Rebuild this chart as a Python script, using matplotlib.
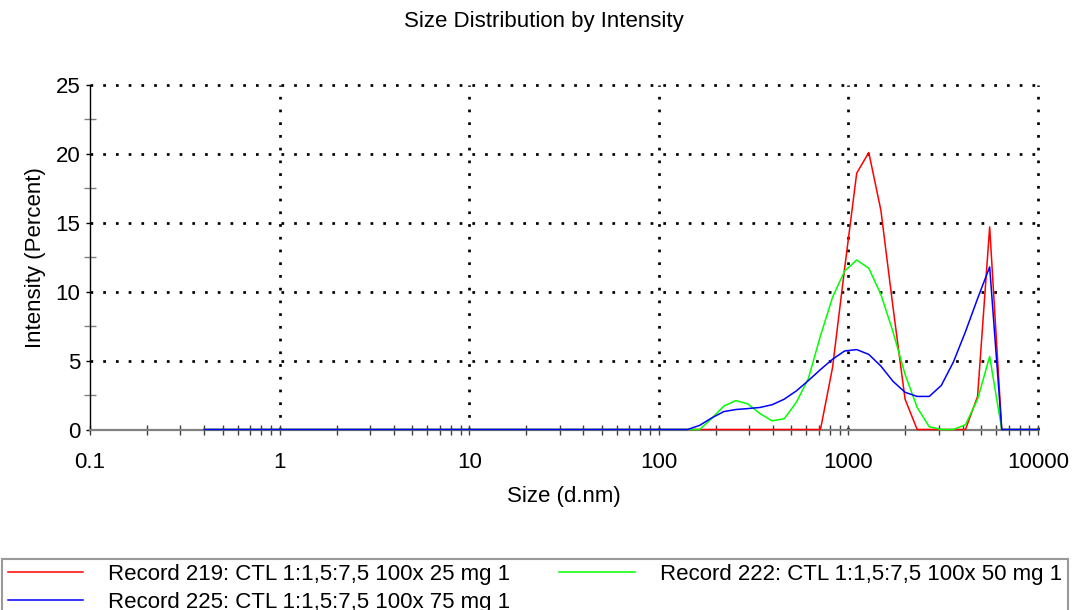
import matplotlib
matplotlib.use("Agg")
import matplotlib.pyplot as plt
from matplotlib.ticker import FixedLocator, FixedFormatter, NullFormatter

plt.rcParams['font.family'] = ['Liberation Sans', 'DejaVu Sans']

# size bins (d.nm)
sizes = [0.4, 0.4632, 0.5365, 0.6213, 0.7195, 0.8332, 0.9649, 1.117, 1.294, 1.499,
         1.736, 2.010, 2.328, 2.696, 3.122, 3.615, 4.187, 4.849, 5.615, 6.503,
         7.531, 8.721, 10.10, 11.70, 13.54, 15.69, 18.17, 21.04, 24.36, 28.21,
         32.67, 37.84, 43.82, 50.75, 58.77, 68.06, 78.82, 91.28, 105.7, 122.4,
         141.8, 164.2, 190.1, 220.2, 255.0, 295.3, 342.0, 396.1, 458.7, 531.2,
         615.1, 712.4, 825.0, 955.4, 1106, 1281, 1484, 1718, 1990, 2305,
         2669, 3091, 3580, 4145, 4801, 5560, 6439, 7456, 8635, 10000]

# intensity (%) per bin, bins 0.4 .. 122.4 nm are all zero
zeros_low = [0] * 40
rec219 = zeros_low + [0, 0, 0, 0, 0, 0, 0, 0, 0, 0,
                      0, 0, 4.5, 11.7, 18.6, 20.1, 15.9, 8.9, 2.2, 0,
                      0, 0, 0, 0, 2.4, 14.7, 0, 0, 0, 0]
rec222 = zeros_low + [0, 0, 0.8, 1.7, 2.1, 1.85, 1.15, 0.63, 0.78, 1.97,
                      3.7, 6.8, 9.6, 11.5, 12.3, 11.7, 9.8, 7.1, 4.0, 1.6,
                      0.2, 0, 0, 0.35, 2.2, 5.3, 0, 0, 0, 0]
rec225 = zeros_low + [0, 0.3, 0.84, 1.3, 1.45, 1.52, 1.6, 1.8, 2.2, 2.8,
                      3.55, 4.35, 5.1, 5.7, 5.8, 5.45, 4.6, 3.5, 2.7, 2.4,
                      2.4, 3.2, 4.9, 7.1, 9.5, 11.8, 0, 0, 0, 0]

labels = ['Record 219: CTL 1:1,5:7,5 100x 25 mg 1',
          'Record 222: CTL 1:1,5:7,5 100x 50 mg 1',
          'Record 225: CTL 1:1,5:7,5 100x 75 mg 1']

x_major = [0.1, 1, 10, 100, 1000, 10000]
x_major_labels = ['0.1', '1', '10', '100', '1000', '10000']
y_major = [0, 5, 10, 15, 20, 25]

fs = 16

fig = plt.figure(figsize=(10.73, 6.10), dpi=100)
ax = fig.add_axes([90 / 1073, 1 - 429.5 / 610, 948 / 1073, 344.5 / 610])

l1, = ax.plot(sizes, rec219, color='#ff0000', lw=1.1, clip_on=False, zorder=3)
l2, = ax.plot(sizes, rec222, color='#00ff00', lw=1.1, clip_on=False, zorder=3)
l3, = ax.plot(sizes, rec225, color='#0000ff', lw=1.1, clip_on=False, zorder=3)

ax.set_xscale('log')
ax.set_xlim(0.1, 10000)
ax.set_ylim(0, 25)

ax.xaxis.set_major_locator(FixedLocator(x_major))
ax.xaxis.set_major_formatter(FixedFormatter(x_major_labels))
minor_x = [m * d for d in [0.1, 1, 10, 100, 1000] for m in range(2, 10)]
ax.xaxis.set_minor_locator(FixedLocator(minor_x))
ax.xaxis.set_minor_formatter(NullFormatter())
ax.yaxis.set_major_locator(FixedLocator(y_major))
ax.yaxis.set_minor_locator(FixedLocator([2.5, 7.5, 12.5, 17.5, 22.5]))

ax.tick_params(axis='x', which='both', direction='inout', length=6.5, width=1,
               color='#404040', labelsize=fs, pad=13)
ax.tick_params(axis='y', which='major', direction='out', length=3, width=1,
               color='black', labelsize=fs, pad=4)
ax.tick_params(axis='y', which='minor', direction='inout', length=8, width=1,
               color='#808080')

for s in ['top', 'right']:
    ax.spines[s].set_visible(False)
ax.spines['left'].set_color('black')
ax.spines['left'].set_linewidth(1)
ax.spines['bottom'].set_color('#808080')
ax.spines['bottom'].set_linewidth(1.6)

dots = (0, (1, 3.7))
for v in [1, 10, 100, 1000, 10000]:
    ax.axvline(v, color='black', lw=1.95, linestyle=dots, zorder=1, clip_on=False)
for v in [5, 10, 15, 20, 25]:
    ax.axhline(v, color='black', lw=1.95, linestyle=dots, zorder=1, clip_on=False)

ax.set_xlabel('Size (d.nm)', fontsize=fs, labelpad=9)
ax.set_ylabel('Intensity (Percent)', fontsize=fs, labelpad=6.5)
fig.text(544 / 1073, 1 - 21 / 610, 'Size Distribution by Intensity',
         ha='center', va='center', fontsize=fs)

leg = fig.legend([l1, l3, l2], [labels[0], labels[2], labels[1]],
                 loc='upper left', bbox_to_anchor=(2 / 1073, 1 - 558.5 / 610),
                 ncol=2, fontsize=fs, frameon=True, fancybox=False,
                 borderaxespad=0, borderpad=0.25, handlelength=3.4,
                 handletextpad=1.13, columnspacing=2.2, labelspacing=0.3)
leg.get_frame().set_edgecolor('#808080')
leg.get_frame().set_linewidth(1.5)

fig.savefig('out.png', dpi=100)
